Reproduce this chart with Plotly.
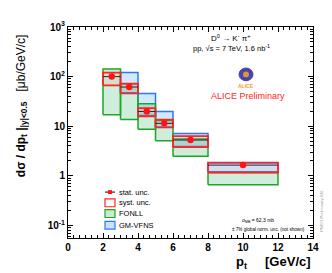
import plotly.graph_objects as go

# ---------------- data ----------------
bin_lo = [2, 3, 4, 5, 6, 8]
bin_hi = [3, 4, 5, 6, 8, 12]
pt = [2.5, 3.5, 4.5, 5.5, 7.0, 10.0]
xsec = [100, 61.6, 19.8, 11.4, 5.25, 1.64]
stat_err = [10, 5.0, 2.2, 1.1, 0.35, 0.14]
syst_hi = [120, 71.8, 23.1, 13.6, 6.3, 1.85]
syst_lo = [66.6, 45.6, 15.8, 9.4, 3.78, 1.16]
fonll_hi = [142, 72, 28.4, 13.0, 5.5, 1.17]
fonll_lo = [17, 13.6, 8.65, 5.1, 2.47, 0.66]
gm_hi = [None, 121, 45.6, 19.8, 7.1, 1.80]
gm_lo = [None, 47, 16.5, 9.6, 3.9, 1.20]

y_tickvals = [0.1, 1, 10, 100, 1000]
y_ticktext = ["10<sup>-1</sup>", "1", "10", "10<sup>2</sup>", "10<sup>3</sup>"]
x_tickvals = [0, 2, 4, 6, 8, 10, 12, 14]

# window is 332x273, page body has an 8px margin
WIN_W, WIN_H = 332, 273
OFF = 8
W, H = WIN_W - OFF, WIN_H - OFF
# plot area in window pixels
PX0, PX1, PY0, PY1 = 68, 313, 22, 238
PW, PH = PX1 - PX0, PY1 - PY0
L, T = PX0 - OFF, PY0 - OFF
R, B = W - (PX1 - OFF), H - (PY1 - OFF)


def px(x):
    return (x - PX0) / PW


def py(y):
    return (PY1 - y) / PH


def boxes(lo, hi, ylo, yhi):
    xs, ys = [], []
    for a, b, c, d in zip(lo, hi, ylo, yhi):
        if c is None or d is None:
            continue
        xs += [a, b, b, a, a, None]
        ys += [c, c, d, d, c, None]
    return xs, ys


GREEN = "rgb(30,165,40)"
GREEN_F = "rgba(60,185,110,0.25)"
BLUE = "rgb(40,120,255)"
BLUE_F = "rgba(90,170,245,0.27)"
RED = "rgb(255,35,35)"
FONT = "Liberation Sans"
NB = "\u00a0"

fig = go.Figure()

gx, gy = boxes(bin_lo, bin_hi, gm_lo, gm_hi)
fig.add_trace(go.Scatter(x=gx, y=gy, mode="lines", fill="toself", fillcolor=BLUE_F,
                         line=dict(color=BLUE, width=1.5), showlegend=False, hoverinfo="skip"))
fx, fy = boxes(bin_lo, bin_hi, fonll_lo, fonll_hi)
fig.add_trace(go.Scatter(x=fx, y=fy, mode="lines", fill="toself", fillcolor=GREEN_F,
                         line=dict(color=GREEN, width=1.5), showlegend=False, hoverinfo="skip"))
sx, sy = boxes(bin_lo, bin_hi, syst_lo, syst_hi)
fig.add_trace(go.Scatter(x=sx, y=sy, mode="lines", fill="toself", fillcolor="rgba(255,120,120,0.10)",
                         line=dict(color=RED, width=1.7), showlegend=False, hoverinfo="skip"))
half_w = [(b - a) / 2 for a, b in zip(bin_lo, bin_hi)]
fig.add_trace(go.Scatter(
    x=pt, y=xsec, mode="markers",
    marker=dict(color="rgb(255,20,20)", size=6.5, symbol="circle"),
    error_y=dict(type="data", array=stat_err, color="rgb(40,40,40)", thickness=1, width=0),
    error_x=dict(type="data", array=half_w, color="rgb(40,40,40)", thickness=1, width=0),
    showlegend=False, hoverinfo="skip"))

axis_common = dict(showline=True, linecolor="black", linewidth=1, mirror="allticks",
                   ticks="inside", ticklen=5, tickcolor="black", showgrid=False, zeroline=False,
                   tickfont=dict(family=FONT, size=10, color="black", weight="bold"))

fig.update_xaxes(range=[0, 14], tickvals=x_tickvals, ticktext=[str(v) for v in x_tickvals],
                 minor=dict(dtick=1 / 3, tick0=0, ticks="inside", ticklen=3, tickcolor="black"),
                 **axis_common)
fig.update_yaxes(type="log", range=[-1.255, 3], tickvals=y_tickvals, ticktext=y_ticktext,
                 minor=dict(tickvals=[m * 10 ** e for e in range(-2, 3) for m in range(2, 10)],
                            ticks="inside", ticklen=3, tickcolor="black"),
                 **axis_common)

ann = []
shapes = []

# axis titles
ann.append(dict(text="<b>dσ / dp<sub>t</sub> |<sub>|y|<0.5</sub></b>" + NB * 3 + "[μb/GeV/c]",
                xref="paper", yref="paper",
                x=px(22), y=py(103), xanchor="center", yanchor="middle", textangle=-90,
                showarrow=False, font=dict(family=FONT, size=12, color="black")))
ann.append(dict(text="<b>p<sub>t</sub>" + NB * 5 + "[GeV/c]</b>", xref="paper", yref="paper",
                x=1.0, y=py(263), xanchor="right", yanchor="middle",
                showarrow=False, font=dict(family=FONT, size=13, color="black")))

# header texts
ann.append(dict(text="D<sup>0</sup> → K<sup>-</sup> π<sup>+</sup>", xref="paper", yref="paper",
                x=px(231), y=py(33), xanchor="center", yanchor="middle", showarrow=False,
                font=dict(family=FONT, size=8, color="black")))
ann.append(dict(text="pp, √s = 7 TeV, 1.6 nb<sup>-1</sup>", xref="paper", yref="paper",
                x=px(231), y=py(43), xanchor="center", yanchor="middle", showarrow=False,
                font=dict(family=FONT, size=7.5, color="black")))
ann.append(dict(text="ALICE Preliminary", xref="paper", yref="paper",
                x=px(248), y=py(93), xanchor="center", yanchor="middle", showarrow=False,
                font=dict(family=FONT, size=9, color="rgb(255,30,30)")))
ann.append(dict(text="<b>ALICE</b>", xref="paper", yref="paper",
                x=px(246), y=py(82), xanchor="center", yanchor="middle", showarrow=False,
                font=dict(family=FONT, size=5, color="rgb(255,150,30)")))
# logo
shapes.append(dict(type="circle", xref="paper", yref="paper",
                   x0=px(239), x1=px(253), y0=py(77), y1=py(64),
                   fillcolor="rgb(70,70,170)", line=dict(color="rgb(90,60,160)", width=1)))
shapes.append(dict(type="circle", xref="paper", yref="paper",
                   x0=px(243), x1=px(249), y0=py(73.5), y1=py(67.5),
                   fillcolor="rgb(220,150,60)", line=dict(width=0)))

# notes
ann.append(dict(text="σ<sub>MB</sub> = 62.3 mb", xref="paper", yref="paper",
                x=px(258), y=py(220), xanchor="center", yanchor="middle", showarrow=False,
                font=dict(family=FONT, size=5, color="black")))
ann.append(dict(text="± 7% global norm. unc. (not shown)", xref="paper", yref="paper",
                x=px(268), y=py(229), xanchor="center", yanchor="middle", showarrow=False,
                font=dict(family=FONT, size=4.6, color="black")))
ann.append(dict(text="PWG3-Preliminary-026", xref="paper", yref="paper",
                x=px(322), y=py(210), xanchor="center", yanchor="middle", textangle=-90, showarrow=False,
                font=dict(family=FONT, size=4, color="rgb(150,150,150)")))

# legend
leg_items = [("stat. unc.", 191), ("syst. unc.", 202), ("FONLL", 213), ("GM-VFNS", 225)]
for label, yy in leg_items:
    ann.append(dict(text=label, xref="paper", yref="paper", x=px(117), y=py(yy),
                    xanchor="left", yanchor="middle", showarrow=False,
                    font=dict(family=FONT, size=7.5, color="black")))
shapes.append(dict(type="line", xref="paper", yref="paper", x0=px(105), x1=px(115),
                   y0=py(191), y1=py(191), line=dict(color="black", width=1)))
shapes.append(dict(type="rect", xref="paper", yref="paper", x0=px(108), x1=px(112),
                   y0=py(193), y1=py(189), fillcolor="rgb(255,20,20)", line=dict(width=0)))
for (_, yy), fc, lc in zip(leg_items[1:], ["white", "rgb(200,235,205)", "rgb(200,225,250)"],
                           [RED, GREEN, BLUE]):
    shapes.append(dict(type="rect", xref="paper", yref="paper", x0=px(105), x1=px(115),
                       y0=py(yy + 4), y1=py(yy - 4), fillcolor=fc, line=dict(color=lc, width=1.2)))

fig.update_layout(width=W, height=H, margin=dict(l=L, r=R, t=T, b=B),
                  paper_bgcolor="white", plot_bgcolor="white", showlegend=False,
                  annotations=ann, shapes=shapes, font=dict(family=FONT))

fig.write_html("out.html")
